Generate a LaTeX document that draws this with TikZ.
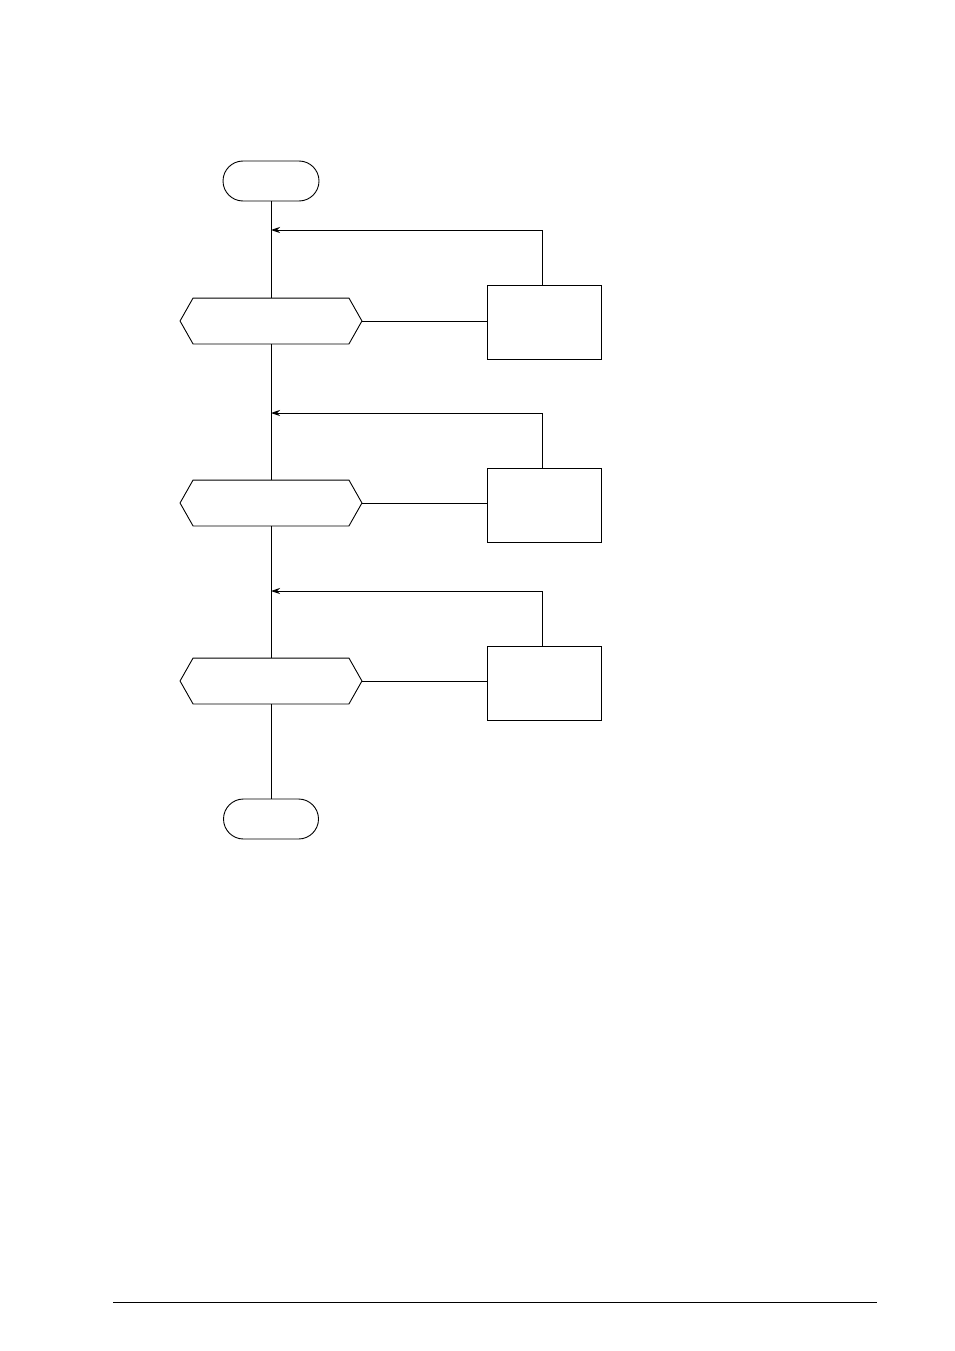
\documentclass[tikz,border=0pt]{standalone}
\usetikzlibrary{arrows.meta,shapes.misc}
\begin{document}
\begin{tikzpicture}[x=1pt,y=-1pt,
  line width=0.9pt,
  term/.style={rounded rectangle,draw,minimum width=96pt,minimum height=40pt,inner sep=0pt},
  hexbase/.style={rectangle,draw=none,minimum width=181pt,minimum height=45pt,inner sep=0pt},
  procbox/.style={rectangle,draw,minimum width=114pt,minimum height=74pt,inner sep=0pt},
  arr/.style={-{Stealth[length=9pt,width=6pt,inset=3pt]}}
]
\useasboundingbox (0,0) rectangle (954,1351);
\fill[white] (0,0) rectangle (954,1351);
\newcommand{\hexdraw}[1]{%
  \draw (#1.west) -- ([xshift=13pt]#1.north west) -- ([xshift=-13pt]#1.north east) -- (#1.east) -- ([xshift=-13pt]#1.south east) -- ([xshift=13pt]#1.south west) -- cycle;}

\node[term] (start) at (271,181) {};
\node[hexbase] (h1) at (271,321) {};
\node[hexbase] (h2) at (271,503) {};
\node[hexbase] (h3) at (271,681) {};
\node[term,minimum width=95pt] (end) at (271,819) {};
\hexdraw{h1}
\hexdraw{h2}
\hexdraw{h3}

\node[procbox] (b1) at (544,322) {};
\node[procbox] (b2) at (544,505) {};
\node[procbox] (b3) at (544,683) {};

\coordinate (j1) at (271,230);
\coordinate (j2) at (271,413);
\coordinate (j3) at (271,591);
\coordinate (u1) at (542,230);
\coordinate (u2) at (542,413);
\coordinate (u3) at (542,591);

\draw (start.south) -- (h1.north);
\draw (h1.south) -- (h2.north);
\draw (h2.south) -- (h3.north);
\draw (h3.south) -- (end.north);

\draw (h1.east) -- (h1.east -| b1.west);
\draw (h2.east) -- (h2.east -| b2.west);
\draw (h3.east) -- (h3.east -| b3.west);

\draw[arr] (u1 |- b1.north) -- (u1) -- (j1);
\draw[arr] (u2 |- b2.north) -- (u2) -- (j2);
\draw[arr] (u3 |- b3.north) -- (u3) -- (j3);

\coordinate (fl) at (113,1302);
\coordinate (fr) at (877,1302);
\draw (fl) -- (fr);
\end{tikzpicture}
\end{document}
